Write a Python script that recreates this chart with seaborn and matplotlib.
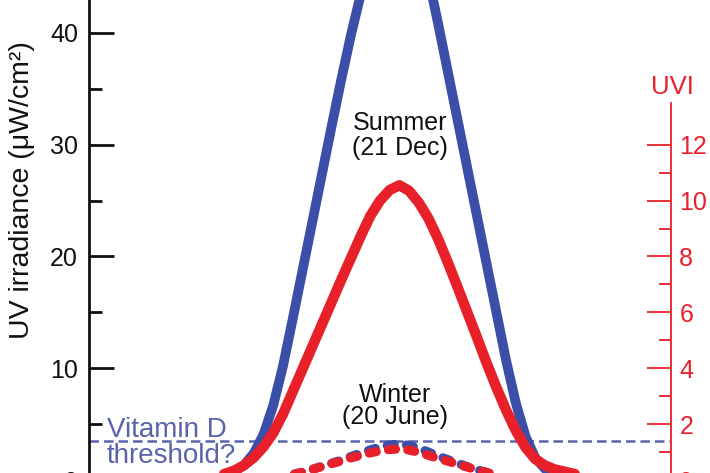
import numpy as np
import pandas as pd
import matplotlib
matplotlib.use("Agg")
import matplotlib.pyplot as plt
import seaborn as sns

# time of day (hours), 15 min steps
summer_hours = np.arange(7.0, 19.01, 0.25)
winter_hours = np.arange(8.0, 18.01, 0.25)

# vitamin-D weighted UV irradiance (uW/cm2), 21 Dec
summer_uv = [0.0, 0.02, 0.05, 0.1, 0.15, 0.25, 0.4, 0.75, 1.35, 2.4, 4.1, 6.7,
             10.2, 14.4, 18.7, 23.0, 27.3, 31.6, 35.8, 39.8, 43.4, 46.5, 49.0, 50.8,
             51.6, 50.8, 48.5, 44.9, 40.8, 36.5, 32.2, 27.9, 23.6, 19.3, 15.0, 10.7,
             6.9, 3.9, 2.0, 1.0, 0.5, 0.25, 0.12, 0.06, 0.03, 0.01, 0.0, 0.0, 0.0]
# UV index, 21 Dec
summer_uvi = [0.0, 0.01, 0.03, 0.05, 0.08, 0.14, 0.22, 0.34, 0.53, 0.81, 1.19, 1.69,
              2.36, 3.16, 3.96, 4.76, 5.56, 6.36, 7.16, 7.94, 8.72, 9.45, 10.0, 10.38,
              10.55, 10.35, 9.93, 9.36, 8.62, 7.78, 6.9, 6.0, 5.1, 4.18, 3.31, 2.5,
              1.77, 1.17, 0.75, 0.52, 0.38, 0.3, 0.22, 0.15, 0.09, 0.05, 0.03, 0.01, 0.0]
# 20 June
winter_uv = [0.0, 0.01, 0.02, 0.05, 0.08, 0.12, 0.18, 0.25, 0.35, 0.5, 0.7, 0.95,
             1.22, 1.5, 1.78, 2.1, 2.4, 2.7, 2.95, 3.15, 3.22, 3.1, 2.85, 2.5,
             2.15, 1.82, 1.5, 1.2, 0.92, 0.68, 0.48, 0.32, 0.2, 0.12, 0.08, 0.04,
             0.02, 0.01, 0.0, 0.0, 0.0]
winter_uvi = [0.0, 0.005, 0.01, 0.02, 0.03, 0.05, 0.07, 0.1, 0.14, 0.2, 0.28, 0.38,
              0.48, 0.58, 0.68, 0.79, 0.88, 0.97, 1.04, 1.09, 1.11, 1.07, 0.99, 0.88,
              0.77, 0.67, 0.56, 0.46, 0.36, 0.27, 0.19, 0.13, 0.08, 0.05, 0.03, 0.02,
              0.01, 0.005, 0.0, 0.0, 0.0]
vitd_threshold = 3.5

BLUE = "#3B4FA8"
RED = "#E8202A"
SLATE = "#5A64AA"
INK = "#111111"

sns.set_theme(style="white")
plt.rcParams["font.family"] = ["Liberation Sans", "DejaVu Sans"]

fig = plt.figure(figsize=(7.1, 4.73), dpi=100)
ax = fig.add_axes([89 / 710, -7 / 473, 582 / 710, 480 / 473])
ax2 = ax.twinx()

ax.axhline(vitd_threshold, color=SLATE, lw=1.8, linestyle=(0, (3.8, 2.0)), zorder=1)

sns.lineplot(x=winter_hours, y=winter_uv, ax=ax, color=BLUE, lw=6.5,
             linestyle=(0, (0.8, 1.35)), dash_capstyle="round")
sns.lineplot(x=summer_hours, y=summer_uv, ax=ax, color=BLUE, lw=7)
sns.lineplot(x=winter_hours, y=winter_uvi, ax=ax2, color=RED, lw=6.5,
             linestyle=(0, (0.8, 1.35)), dash_capstyle="round")
sns.lineplot(x=summer_hours, y=summer_uvi, ax=ax2, color=RED, lw=7.5)

ax.set_xlim(5, 20)
ax.set_ylim(0, 42.95)
ax2.set_ylim(0, 42.95 / 2.5)

for s in ["top", "bottom", "right"]:
    ax.spines[s].set_visible(False)
ax.spines["left"].set_color(INK)
ax.spines["left"].set_linewidth(2)
for s in ["top", "bottom", "left"]:
    ax2.spines[s].set_visible(False)
ax2.spines["right"].set_color(RED)
ax2.spines["right"].set_linewidth(1.3)
ax2.spines["right"].set_bounds(0, 13.5)

ax.set_yticks([0, 10, 20, 30, 40])
ax.set_yticks([5, 15, 25, 35], minor=True)
ax.tick_params(axis="y", which="major", direction="in", length=18, width=2,
               labelsize=18, pad=8, color=INK, labelcolor=INK, left=True)
ax.tick_params(axis="y", which="minor", direction="in", length=9.5, width=2,
               color=INK, left=True)
ax.tick_params(axis="x", bottom=False, labelbottom=False)
ax.set_xlabel("")
ax.set_ylabel("UV irradiance (\u03bcW/cm\u00b2)", fontsize=20.5, color=INK)
ax.yaxis.set_label_coords(-0.092, 0.604)

ax2.set_yticks([0, 2, 4, 6, 8, 10, 12])
ax2.set_yticks([1, 3, 5, 7, 9, 11], minor=True)
ax2.tick_params(axis="y", which="major", direction="in", length=17, width=1.3,
                labelsize=18, pad=6, color=RED, labelcolor=RED, right=True)
ax2.tick_params(axis="y", which="minor", direction="in", length=8.6, width=1.3,
                color=RED, right=True)
ax2.set_ylabel("")
ax2.set_xlabel("")
ax2.text(20.03, 13.82, "UVI", color=RED, fontsize=18.5, ha="center", va="baseline")

ax.text(13.02, 31.3, "Summer", fontsize=18, ha="center", va="baseline", color=INK)
ax.text(13.02, 29.1, "(21 Dec)", fontsize=18, ha="center", va="baseline", color=INK)
ax.text(12.89, 6.98, "Winter", fontsize=18, ha="center", va="baseline", color=INK)
ax.text(12.89, 5.01, "(20 June)", fontsize=18, ha="center", va="baseline", color=INK)
ax.text(5.46, 3.85, "Vitamin D", fontsize=20, color=SLATE, ha="left", va="baseline")
ax.text(5.46, 1.52, "threshold?", fontsize=20, color=SLATE, ha="left", va="baseline")

fig.savefig("out.png", dpi=100)
